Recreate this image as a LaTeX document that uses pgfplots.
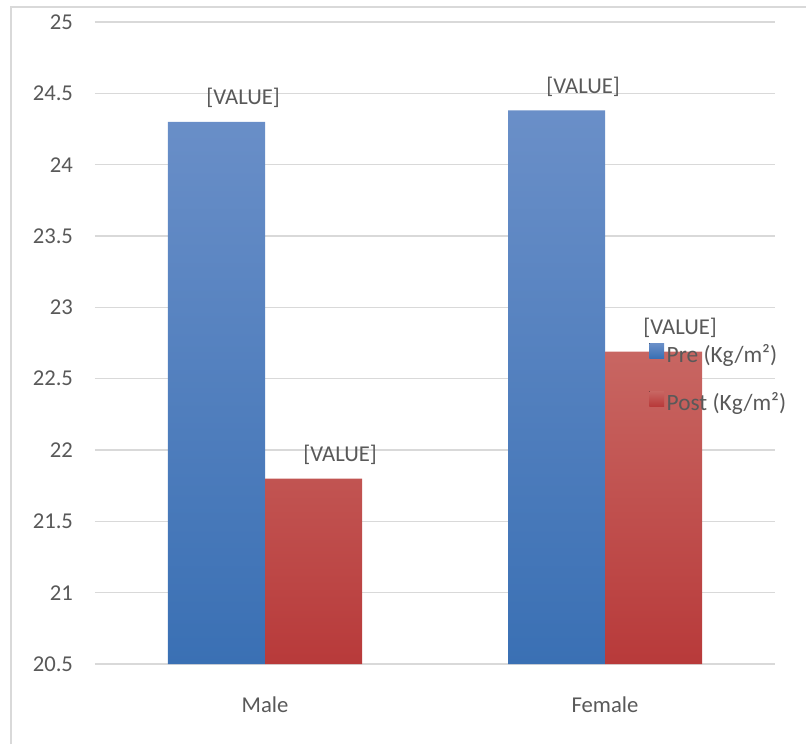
\documentclass[border=0pt]{standalone}
\usepackage{fontspec}
\setmainfont{Carlito}
\usepackage{pgfplots}
\pgfplotsset{compat=1.18}

\definecolor{txt}{HTML}{595959}
\definecolor{gridc}{HTML}{D9D9D9}
\definecolor{bluetop}{HTML}{6A8FC8}
\definecolor{bluebot}{HTML}{3A70B4}
\definecolor{redtop}{HTML}{C86662}
\definecolor{redbot}{HTML}{B83A3A}

\begin{document}
\begin{tikzpicture}
\begin{axis}[
    scale only axis,
    width=510pt, height=481.5pt,
    ybar=0pt, bar width=72.75pt,
    xmin=-0.5, xmax=1.5,
    ymin=20.5, ymax=25,
    y coord trafo/.code={\pgfmathparse{#1-20.5}},
    y coord inv trafo/.code={\pgfmathparse{#1+20.5}},
    ytick={20.5,21,21.5,22,22.5,23,23.5,24,24.5,25},
    xtick={0,1}, xticklabels={Male,Female},
    axis line style={draw=none},
    major tick length=0pt,
    ymajorgrids, major grid style={gridc, line width=1pt},
    tick label style={font=\fontsize{17}{17}\selectfont, text=txt},
    /pgf/number format/assume math mode=true,
    yticklabel style={xshift=-13pt},
    xticklabel style={yshift=-21pt},
    nodes near coords={[VALUE]},
    nodes near coords style={font=\fontsize{17}{17}\selectfont, text=txt,
        anchor=base, xshift=20pt, yshift=12.75pt, inner sep=0pt},
    legend style={at={(0.809,0.507)}, anchor=north west, draw=none, fill=none,
        font=\fontsize{17.5}{17.5}\selectfont, text=txt, row sep=17pt,
        /tikz/every even column/.append style={column sep=4pt}},
    legend cell align=left,
    legend image code/.code={\fill[#1] (0pt,-3pt) rectangle (11pt,8pt);},
]
\addplot[draw=none, top color=bluetop, bottom color=bluebot]
    coordinates {(0,24.3) (1,24.38)};
\addlegendentry{Pre (Kg/m²)}
\addplot[draw=none, top color=redtop, bottom color=redbot]
    coordinates {(0,21.8) (1,22.69)};
\addlegendentry{Post (Kg/m²)}
\end{axis}
\draw[gridc, line width=1.1pt] (-63pt,-60pt) -- (-63pt,492.75pt) -- (533.25pt,492.75pt);
\pgfresetboundingbox
\useasboundingbox (-71.25pt,-60pt) rectangle (533.25pt,498pt);
\end{tikzpicture}
\end{document}
